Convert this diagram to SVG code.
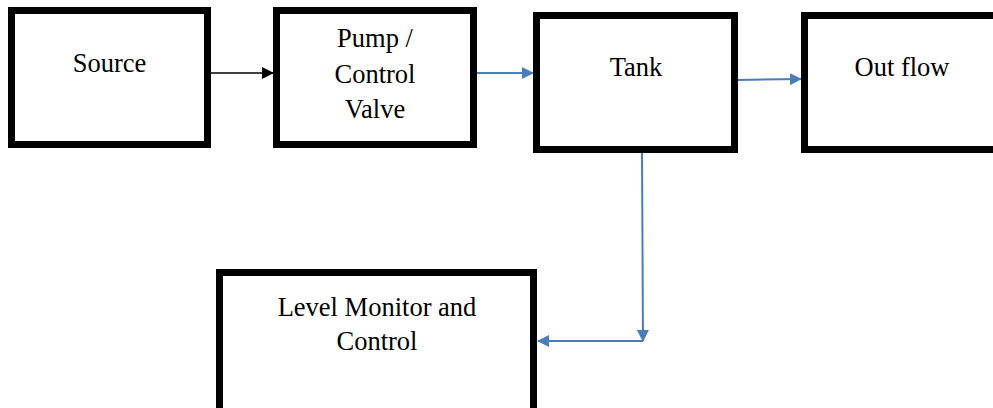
<svg xmlns="http://www.w3.org/2000/svg" width="993" height="408" viewBox="0 0 993 408">
  <style>
    .box { fill: #ffffff; stroke: #000000; stroke-width: 7; }
    .label { font-family: 'Liberation Serif', 'DejaVu Serif', serif; font-size: 26.5px; fill: #000000; text-anchor: middle; }
    .flow-black { fill: none; stroke: #000000; stroke-width: 1.5; }
    .flow-blue { fill: none; stroke: #4a7ebb; stroke-width: 2; }
  </style>
  <defs>
    <marker id="arrow-black" markerWidth="12" markerHeight="12" refX="11" refY="6" orient="auto" markerUnits="userSpaceOnUse">
      <path d="M0,0 L12,6 L0,12 Z" fill="#000000"/>
    </marker>
    <marker id="arrow-blue" markerWidth="12" markerHeight="12" refX="11" refY="6" orient="auto" markerUnits="userSpaceOnUse">
      <path d="M0,0 L12,6 L0,12 Z" fill="#4a7ebb"/>
    </marker>
  </defs>

  <rect width="993" height="408" fill="#ffffff"/>

  <g id="connectors">
    <line class="flow-black" x1="211" y1="73" x2="273" y2="73" marker-end="url(#arrow-black)"/>
    <line class="flow-blue" x1="477" y1="73" x2="533" y2="73" marker-end="url(#arrow-blue)"/>
    <line class="flow-blue" x1="738" y1="80" x2="801" y2="79" marker-end="url(#arrow-blue)"/>
    <line class="flow-blue" x1="642" y1="153" x2="643" y2="341" marker-end="url(#arrow-blue)"/>
    <line class="flow-blue" x1="643" y1="341" x2="538" y2="341" marker-end="url(#arrow-blue)"/>
  </g>

  <g id="source">
    <rect class="box" x="11.5" y="10.5" width="196" height="134"/>
    <text class="label" x="109.5" y="72">Source</text>
  </g>

  <g id="pump-control-valve">
    <rect class="box" x="276.5" y="10.5" width="197" height="134"/>
    <text class="label" x="375" y="47">Pump /</text>
    <text class="label" x="375" y="83">Control</text>
    <text class="label" x="375" y="118">Valve</text>
  </g>

  <g id="tank">
    <rect class="box" x="536.5" y="15.5" width="198" height="134"/>
    <text class="label" x="636" y="76">Tank</text>
  </g>

  <g id="out-flow">
    <rect class="box" x="804.5" y="15.5" width="198" height="134"/>
    <text class="label" x="902" y="76">Out flow</text>
  </g>

  <g id="level-monitor-control">
    <rect class="box" x="219.5" y="272.5" width="314" height="140"/>
    <text class="label" x="377" y="316">Level Monitor and</text>
    <text class="label" x="377" y="350">Control</text>
  </g>
</svg>
